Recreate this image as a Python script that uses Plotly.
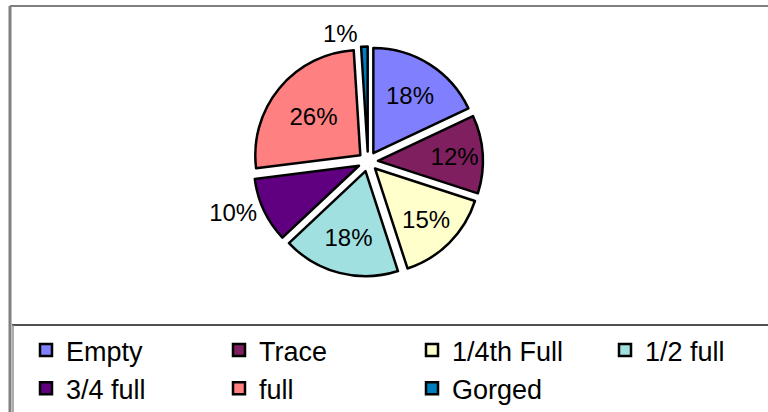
import plotly.graph_objects as go

# Datos del gráfico
categorias = ["Empty", "Trace", "1/4th Full", "1/2 full", "3/4 full", "full", "Gorged"]
porcentajes = [18, 12, 15, 18, 10, 26, 1]
posiciones_texto = ["inside", "inside", "inside", "inside", "outside", "inside", "outside"]
colores = ["#8080FF", "#7F1F5F", "#FFFFCC", "#A0E0E0", "#600080", "#FF8080", "#0080C0"]

W, H = 768, 412
FONT = "Liberation Sans, Arial, sans-serif"

fig = go.Figure(go.Pie(
    labels=categorias,
    values=porcentajes,
    sort=False,
    direction="clockwise",
    rotation=0,
    pull=0.095,
    marker=dict(colors=colores, line=dict(color="black", width=2.5)),
    texttemplate="%{value}%",
    textposition=posiciones_texto,
    insidetextorientation="horizontal",
    textfont=dict(family=FONT, size=24, color="black"),
    hoverinfo="label+percent",
    domain=dict(x=[253 / W, 483 / W], y=[1 - 276.5 / H, 1 - 46.5 / H]),
))

# Marco exterior y caja de la leyenda
marco = dict(type="line", xref="paper", yref="paper")
fig.update_layout(
    shapes=[
        dict(marco, x0=10 / W, x1=10 / W, y0=0, y1=1 - 6 / H, line=dict(color="#808080", width=3)),
        dict(marco, x0=10 / W, x1=1, y0=1 - 6 / H, y1=1 - 6 / H, line=dict(color="#808080", width=2)),
        dict(marco, x0=12 / W, x1=1, y0=1 - 325 / H, y1=1 - 325 / H, line=dict(color="#505050", width=2)),
        dict(marco, x0=13 / W, x1=13 / W, y0=0, y1=1 - 325 / H, line=dict(color="#909090", width=1.5)),
    ],
    width=W,
    height=H,
    margin=dict(l=0, r=0, t=0, b=0, autoexpand=False),
    paper_bgcolor="white",
    plot_bgcolor="white",
    uniformtext=dict(minsize=24, mode="show"),
    showlegend=True,
    legend=dict(
        orientation="h",
        x=26 / W,
        xanchor="left",
        y=1 - 326 / H,
        yanchor="top",
        entrywidth=148,
        entrywidthmode="pixels",
        font=dict(family=FONT, size=27, color="black"),
        bgcolor="rgba(0,0,0,0)",
    ),
)

fig.write_html("out.html", config={"displayModeBar": False},
               post_script="document.body.style.margin='0';")
